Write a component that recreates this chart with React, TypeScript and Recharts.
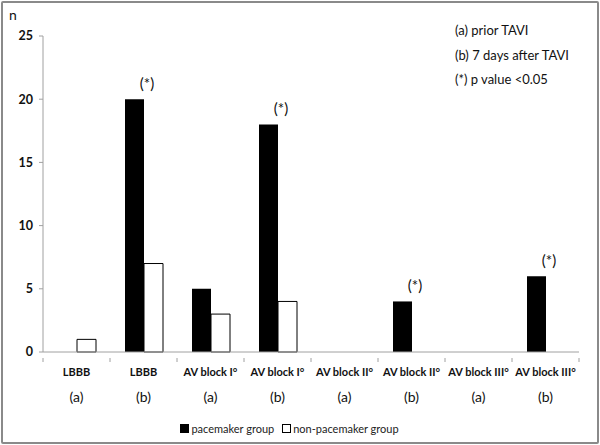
import { BarChart, Bar, XAxis, YAxis, Legend, LabelList } from 'recharts'

const CATEGORIES = [
  'LBBB',
  'LBBB',
  'AV block I°',
  'AV block I°',
  'AV block II°',
  'AV block II°',
  'AV block III°',
  'AV block III°',
]
const PHASES = ['(a)', '(b)', '(a)', '(b)', '(a)', '(b)', '(a)', '(b)']
const PACEMAKER = [0, 20, 5, 18, 0, 4, 0, 6]
const NON_PACEMAKER = [1, 7, 3, 4, 0, 0, 0, 0]
const SIGNIFICANT = [false, true, false, true, false, true, false, true]
const Y_TICKS = [0, 5, 10, 15, 20, 25]
const NOTES = ['(a) prior TAVI', '(b) 7 days after TAVI', '(*) p value <0.05']

const FONT = 'Lato, "Open Sans", sans-serif'
const AXIS_GREY = '#a0a0a0'

const data = CATEGORIES.map((cat, i) => ({
  key: String(i),
  category: cat,
  phase: PHASES[i],
  pacemaker: PACEMAKER[i],
  nonPacemaker: NON_PACEMAKER[i],
  sig: SIGNIFICANT[i] ? '(*)' : '',
}))

// two-line category tick: name in bold, (a)/(b) below.
// Also draws the small tick marks at the category boundaries (Excel style).
function CategoryTick(props: {
  x?: number
  y?: number
  width?: number
  visibleTicksCount?: number
  index?: number
  payload?: { value: string }
}) {
  const { x = 0, y = 0, width = 0, visibleTicksCount = 1, index = 0, payload } = props
  const i = Number(payload?.value ?? 0)
  const band = width / visibleTicksCount
  const axisY = y - 2
  return (
    <g>
      <line x1={x - band / 2} x2={x - band / 2} y1={axisY} y2={axisY + 4} stroke={AXIS_GREY} />
      {index === visibleTicksCount - 1 && (
        <line x1={x + band / 2} x2={x + band / 2} y1={axisY} y2={axisY + 4} stroke={AXIS_GREY} />
      )}
      <g transform={`translate(${x},${y})`}>
        <text x={0} y={0} dy={16} textAnchor="middle" fontSize={11} fontWeight={700} fill="#111" fontFamily={FONT}>
          {CATEGORIES[i]}
        </text>
        <text x={0} y={0} dy={42} textAnchor="middle" fontSize={14} fill="#111" fontFamily={FONT}>
          {PHASES[i]}
        </text>
      </g>
    </g>
  )
}

// "(*)" marker sits just right of the pacemaker bar's centre line
function SigLabel(props: { x?: number; y?: number; width?: number; value?: string }) {
  const { x = 0, y = 0, width = 0, value } = props
  if (!value) return null
  return (
    <text x={Number(x) + Number(width) + 3} y={Number(y) - 10} textAnchor="middle" fontSize={15} fill="#111" fontFamily={FONT}>
      {value}
    </text>
  )
}

function LegendContent() {
  const items = [
    { label: 'pacemaker group', fill: '#000' },
    { label: 'non-pacemaker group', fill: '#fff' },
  ]
  return (
    <div style={{ display: 'flex', justifyContent: 'center', gap: 8, marginTop: 3, fontFamily: FONT, fontSize: 11, color: '#222' }}>
      {items.map((it) => (
        <span key={it.label} style={{ display: 'flex', alignItems: 'center', gap: 2 }}>
          <span style={{ width: 7, height: 7, background: it.fill, border: '1px solid #000', display: 'inline-block' }} />
          {it.label}
        </span>
      ))}
    </div>
  )
}

export default function App() {
  return (
    <div style={{ position: 'fixed', left: 0, top: 0, width: 600, height: 445, background: '#fff' }}>
      <div
        style={{
          position: 'absolute',
          left: 1,
          top: 1,
          width: 594,
          height: 439,
          border: '2px solid #8a8a8a',
          borderRadius: 2,
        }}
      />
      <div style={{ position: 'absolute', left: 9, top: 6, fontFamily: FONT, fontSize: 14, color: '#111' }}>n</div>
      <div style={{ position: 'absolute', left: 455, top: 22, fontFamily: FONT, fontSize: 13, color: '#111' }}>
        {NOTES.map((t) => (
          <div key={t} style={{ height: 24.5 }}>
            {t}
          </div>
        ))}
      </div>
      <BarChart
        width={600}
        height={445}
        data={data}
        margin={{ top: 36, right: 21, bottom: 0, left: 0 }}
        barGap={0}
        barSize={19}
        style={{ position: 'absolute', left: 0, top: 0 }}
      >
        <XAxis
          dataKey="key"
          height={67}
          tick={<CategoryTick />}
          interval={0}
          tickLine={false}
          axisLine={{ stroke: AXIS_GREY }}
        />
        <YAxis
          width={43}
          domain={[0, 25]}
          ticks={Y_TICKS}
          tickSize={4}
          tick={{ fontSize: 12.5, fontWeight: 700, fill: '#111', fontFamily: FONT, dx: -4 }}
          tickLine={{ stroke: AXIS_GREY }}
          axisLine={{ stroke: AXIS_GREY }}
        />
        <Legend verticalAlign="bottom" height={26} content={<LegendContent />} />
        <Bar dataKey="pacemaker" fill="#000" isAnimationActive={false}>
          <LabelList dataKey="sig" content={<SigLabel />} />
        </Bar>
        <Bar dataKey="nonPacemaker" fill="#fff" stroke="#000" strokeWidth={1} isAnimationActive={false} />
      </BarChart>
    </div>
  )
}
